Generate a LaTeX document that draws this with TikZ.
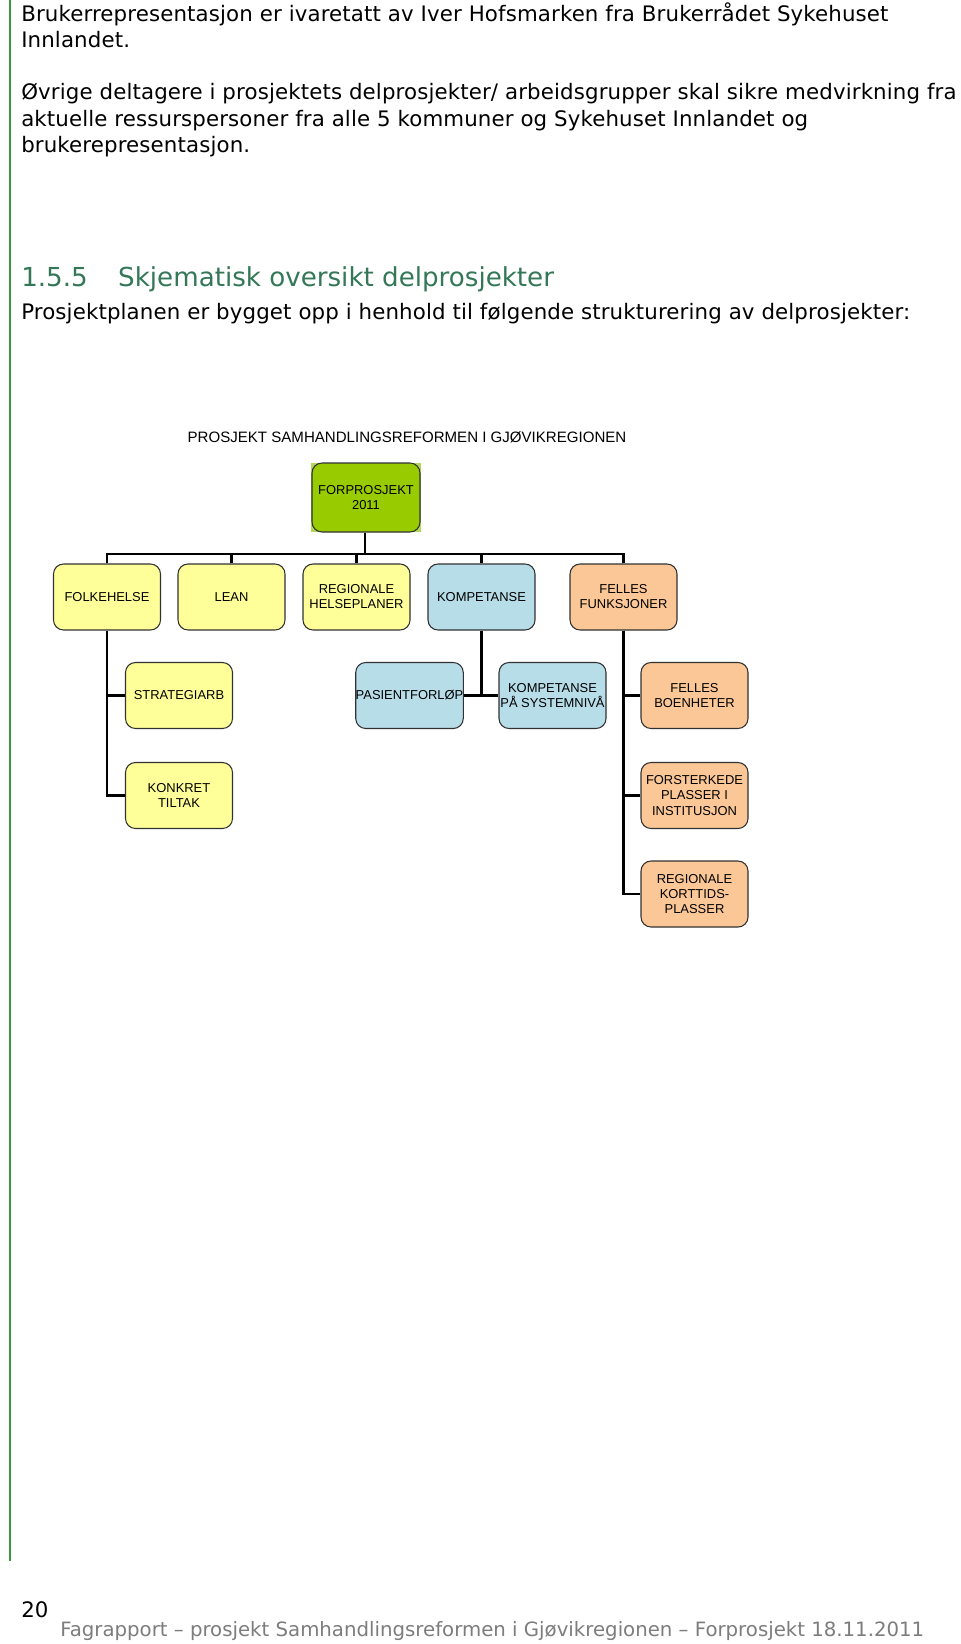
\documentclass[tikz,border=0pt]{standalone}
\usepackage{fontspec}
\setmainfont{DejaVu Sans}
\newfontfamily\bodyfont[LetterSpace=0.6]{DejaVu Sans}
\newfontfamily\arialfont{Liberation Sans}
\definecolor{pagegreen}{RGB}{60,150,60}
\definecolor{headgreen}{RGB}{52,120,88}
\definecolor{footgray}{RGB}{125,125,125}
\definecolor{boxyellow}{RGB}{255,255,153}
\definecolor{boxblue}{RGB}{183,221,232}
\definecolor{boxorange}{RGB}{251,199,150}
\definecolor{boxgreen}{RGB}{153,204,0}
\definecolor{boxgreenlight}{RGB}{178,214,90}
\definecolor{boxedge}{RGB}{50,50,50}
\tikzset{
  bodytext/.style={anchor=base west, inner sep=0pt, font=\bodyfont\fontsize{16}{19.5}\selectfont},
  orgbox/.style={draw=boxedge, line width=0.8pt, rounded corners=7.5pt,
    minimum width=80.25pt, minimum height=49.5pt, inner sep=0pt, align=center,
    font=\arialfont\fontsize{9.7}{11.3}\selectfont},
  yellowbox/.style={orgbox, fill=boxyellow},
  bluebox/.style={orgbox, fill=boxblue},
  orangebox/.style={orgbox, fill=boxorange},
  greenbox/.style={orgbox, fill=boxgreen},
  link/.style={line width=1.8pt, black}
}
\begin{document}
\begin{tikzpicture}[x=0.75pt, y=-0.75pt]
\useasboundingbox[fill=white] (0,0) rectangle (960,1644);
% left green margin line
\draw[pagegreen, line width=2.2pt] (10,0) -- (10,1561);

% body text
\node[bodytext] (t1) at (21,22) {Brukerrepresentasjon er ivaretatt av Iver Hofsmarken fra Brukerrådet Sykehuset};
\node[bodytext] (t2) at (21,48) {Innlandet.};
\node[bodytext] (t3) at (21,100) {Øvrige deltagere i prosjektets delprosjekter/ arbeidsgrupper skal sikre medvirkning fra};
\node[bodytext] (t4) at (21,127) {aktuelle ressurspersoner fra alle 5 kommuner og Sykehuset Innlandet og};
\node[bodytext] (t5) at (21,153) {brukerepresentasjon.};
\node[anchor=base west, inner sep=0pt, text=headgreen, font=\fontsize{19.6}{23}\selectfont] (head) at (21,287)
  {\makebox[72.75pt][l]{1.5.5}Skjematisk oversikt delprosjekter};
\node[bodytext] (t6) at (21,320) {Prosjektplanen er bygget opp i henhold til følgende strukturering av delprosjekter:};

% diagram
\node[inner sep=0pt, font=\arialfont\fontsize{11.3}{13}\selectfont] (title) at (407,437) {PROSJEKT SAMHANDLINGSREFORMEN I GJØVIKREGIONEN};

\fill[boxgreenlight] (311,463) rectangle (421,532);
\node[greenbox, minimum width=81pt, minimum height=51.75pt] (forp) at (366,497.5) {FORPROSJEKT\\2011};

\node[yellowbox] (folk) at (107,597) {FOLKEHELSE};
\node[yellowbox] (lean) at (231.5,597) {LEAN};
\node[yellowbox] (regh) at (356.5,597) {REGIONALE\\HELSEPLANER};
\node[bluebox] (komp) at (481.5,597) {KOMPETANSE};
\node[orangebox] (fell) at (623.5,597) {FELLES\\FUNKSJONER};

\node[yellowbox] (strat) at (179,695.5) {STRATEGIARB};
\node[bluebox] (pasi) at (409.5,695.5) {PASIENTFORLØP};
\node[bluebox] (ksys) at (552.5,695.5) {KOMPETANSE\\PÅ SYSTEMNIVÅ};
\node[orangebox] (boen) at (694.5,695.5) {FELLES\\BOENHETER};

\node[yellowbox] (konk) at (179,795.5) {KONKRET\\TILTAK};
\node[orangebox] (fors) at (694.5,795.5) {FORSTERKEDE\\PLASSER I\\INSTITUSJON};

\node[orangebox] (kort) at (694.5,894) {REGIONALE\\KORTTIDS-\\PLASSER};

% connectors
\coordinate (bar) at (365,554);
\draw[link] (forp.south -| bar) -- (bar);
\draw[link, line cap=rect] (folk.north |- bar) -- (fell.north |- bar);
\draw[link] (folk.north) -- (folk.north |- bar);
\draw[link] (lean.north) -- (lean.north |- bar);
\draw[link] (regh.north) -- (regh.north |- bar);
\draw[link] (komp.north) -- (komp.north |- bar);
\draw[link] (fell.north) -- (fell.north |- bar);

\draw[link] (folk.south) |- (konk.west);
\draw[link] (strat.west -| folk.south) -- (strat.west);

\draw[link] (komp.south) -- (komp.south |- pasi.east);
\draw[link] (pasi.east) -- (ksys.west);

\draw[link] (fell.south) |- (kort.west);
\draw[link] (boen.west -| fell.south) -- (boen.west);
\draw[link] (fors.west -| fell.south) -- (fors.west);

% footer
\node[anchor=base west, inner sep=0pt, font=\fontsize{16}{19}\selectfont] (pnum) at (21,1617) {20};
\node[anchor=base west, inner sep=0pt, text=footgray, font=\fontsize{14.8}{18}\selectfont] (foot) at (60,1636)
  {Fagrapport – prosjekt Samhandlingsreformen i Gjøvikregionen – Forprosjekt 18.11.2011};
\end{tikzpicture}
\end{document}
